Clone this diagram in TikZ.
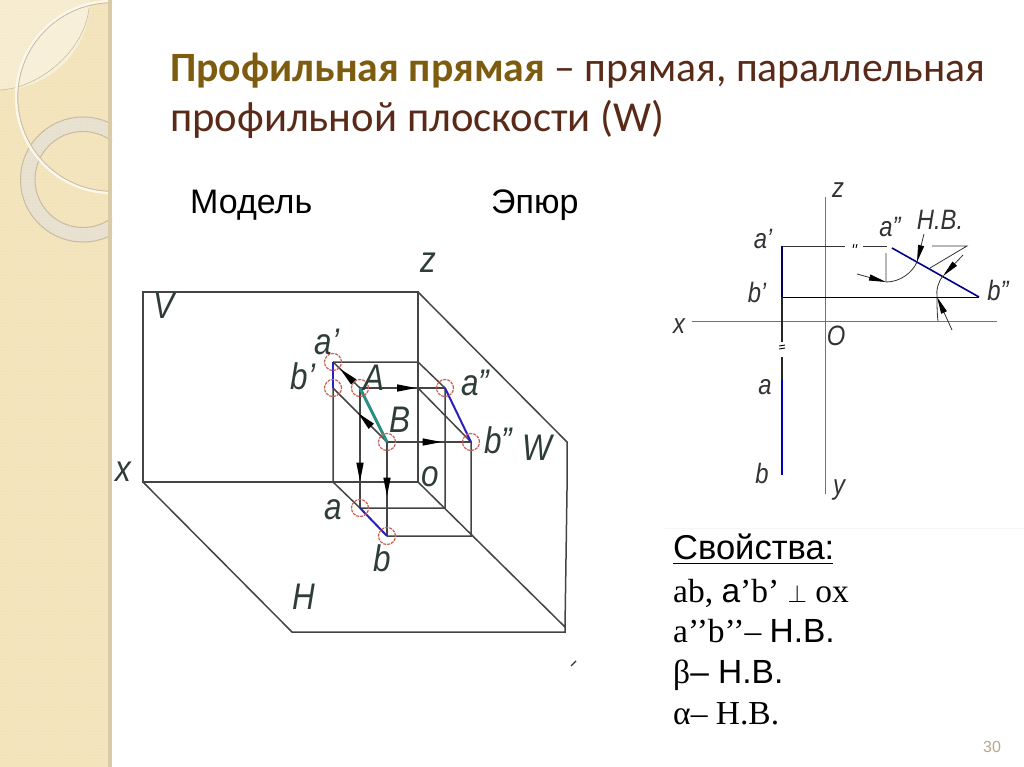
\documentclass[tikz,border=0pt]{standalone}
\usepackage{amsmath}
\usepackage{fontspec}
\setmainfont{Liberation Serif}
\setsansfont{Liberation Sans}
\newfontfamily\titlefont{Carlito}
\usetikzlibrary{arrows.meta,decorations.markings,patterns}
\definecolor{panel}{HTML}{F3E3BA}
\definecolor{paneledge}{HTML}{D8CBA6}
\definecolor{ringfill}{HTML}{E7E0CE}
\definecolor{ringedge}{HTML}{C5B99E}
\definecolor{titlegold}{HTML}{7D5C10}
\definecolor{titlebrown}{HTML}{5A2A18}
\definecolor{planeline}{HTML}{444444}
\definecolor{lblcolor}{HTML}{2E3D38}
\definecolor{projblue}{HTML}{2A1FC0}
\definecolor{truelen}{HTML}{2B8F84}
\definecolor{pagenum}{HTML}{B5A88F}
\definecolor{spotred}{HTML}{CC5F55}
\tikzset{
  txt/.style={anchor=base west,inner sep=0pt,text=black},
  lbl/.style={font=\fontsize{37}{37}\selectfont\sffamily\itshape,text=lblcolor,inner sep=0pt,transform shape,xscale=.85},
  eplbl/.style={font=\fontsize{28}{28}\selectfont\sffamily\itshape,text=black!80,inner sep=0pt,transform shape,xscale=.85},
  plane/.style={draw=planeline,line width=1.5pt},
  proj/.style={draw=projblue,line width=2pt},
  spot/.style={draw=spotred,dash pattern=on 3pt off 1pt,line width=1.2pt},
  axis/.style={draw=black!55,line width=1pt},
  thinl/.style={draw=black!80,line width=.8pt},
  midarr/.style={postaction={decorate},decoration={markings,mark=at position #1 with {\arrow{Triangle[length=19pt,width=7pt,black]}}}},
  dimarr/.style={-{Triangle[length=17pt,width=6pt,black]},draw=black!80,line width=.8pt}
}
\begin{document}
\begin{tikzpicture}[x=1pt,y=-1pt]
  \useasboundingbox (0,0) rectangle (1024,767);
  \fill[white] (0,0) rectangle (1024,767);
  % left band
  \begin{scope}
    \clip (0,0) rectangle (112,767);
    \fill[panel] (0,0) rectangle (112,767);
    \fill[white,opacity=.3] (0,0) circle (90);
    \begin{scope}
      \clip (112,97) circle (96);
      \fill[white,opacity=.2] (0,0) circle (90);
    \end{scope}
    \draw[ringedge,line width=.6pt] (0,90) .. controls (40,88) and (85,50) .. (89,8);
    \fill[ringfill,even odd rule] (83,179.5) circle (62.5) (83,179.5) circle (48);
    \draw[ringedge,line width=1pt] (83,179.5) circle (62.5);
    \draw[ringedge,line width=1pt] (83,179.5) circle (48);
    \draw[ringedge,line width=1.2pt] (112,97) circle (94.4);
    \draw[white!70!panel,line width=2.4pt] (112,97) circle (96);
    \fill[pattern=crosshatch dots,pattern color=white,opacity=.25] (0,0) rectangle (108,767);
    \fill[paneledge] (108,0) rectangle (112,767);
  \end{scope}
  % title
  \node[txt,text=titlebrown,font=\fontsize{41.7}{41.7}\selectfont\titlefont] (title1) at (170,82)
    {\textcolor{titlegold}{\bfseries Профильная прямая} – прямая, параллельная};
  \node[txt,text=titlebrown,font=\fontsize{42.7}{42.7}\selectfont\titlefont] (title2) at (170,132)
    {профильной плоскости (W)};
  \node[txt,font=\fontsize{34}{34}\selectfont\sffamily] (model) at (190,214) {Модель};
  \node[txt,font=\fontsize{34}{34}\selectfont\sffamily] (epure) at (491,214) {Эпюр};
  % model
  \coordinate (vtl) at (143,292);
  \coordinate (vtr) at (418,292);
  \coordinate (x0) at (143,482);
  \coordinate (o0) at (418,482);
  \coordinate (wtr) at (567,442);
  \coordinate (wmid) at (567,490);
  \coordinate (wbr) at (565,627);
  \coordinate (hbl) at (292,632);
  \coordinate (hbr) at (565,632);
  \coordinate (a1) at (333,362);
  \coordinate (b1) at (333,388);
  \coordinate (A) at (360,388);
  \coordinate (B) at (387,442);
  \coordinate (a2) at (445,388);
  \coordinate (b2) at (471,442);
  \coordinate (a0) at (360,508);
  \coordinate (b0) at (387,536);
  \coordinate (bx) at (333,482);
  \coordinate (az) at (418,362);
  \coordinate (bz) at (418,388);
  \coordinate (ay) at (445,508);
  \coordinate (by) at (471,536);
  \draw[plane] (vtl) -- (vtr) -- (o0) -- (x0) -- cycle;
  \draw[plane] (vtr) -- (wtr) -- (wmid) -- (wbr) -- (o0);
  \draw[plane] (x0) -- (hbl) -- (hbr) -- (wbr);
  \draw[plane] (a1) -- (az) -- (a2) -- (ay) -- (a0) -- (bx) -- (b1);
  \draw[plane] (bz) -- (b2) -- (by) -- (b0);
  \draw[plane,midarr=.78] (A) -- (a0);
  \draw[plane,midarr=.58] (B) -- (b0);
  \draw[plane,midarr=.66] (A) -- (a2);
  \draw[plane,midarr=.65] (B) -- (b2);
  \draw[plane,midarr=.74] (A) -- (a1);
  \draw[plane,midarr=.54] (B) -- (b1);
  \draw[proj] (a1) -- (b1);
  \draw[proj] (a2) -- (b2);
  \draw[proj] (a0) -- (b0);
  \draw[truelen,line width=3pt] (A) -- (B);
  \foreach \p in {a1,b1,A,B,a2,b2,a0,b0}
    \draw[spot] (\p) circle [radius=8.5pt];
  \node[lbl] (lz) at (428,263) {z};
  \node[lbl] (lV) at (164,306) {V};
  \node[lbl] (la1) at (327,342) {a’};
  \node[lbl] (lb1) at (303,376) {b’};
  \node[lbl] (lA) at (374,378) {A};
  \node[lbl] (la2) at (475,383) {a”};
  \node[lbl] (lB) at (400,420) {B};
  \node[lbl] (lb2) at (498,440) {b”};
  \node[lbl] (lW) at (537,448) {W};
  \node[lbl] (lx) at (123,472) {x};
  \node[lbl] (lo) at (430,477) {o};
  \node[lbl] (la0) at (333,510) {a};
  \node[lbl] (lb0) at (382,558) {b};
  \node[lbl] (lH) at (304,597) {H};
  \coordinate (sp1) at (571,666);
  \coordinate (sp2) at (576,661);
  \draw[black!80,line width=1.2pt] (sp1) -- (sp2);
  % epure
  \coordinate (zt) at (825,197);
  \coordinate (yb) at (825,494);
  \coordinate (xl) at (692,321);
  \coordinate (xr) at (997,321);
  \coordinate (ea1) at (782,246);
  \coordinate (eb1) at (782,297);
  \coordinate (ea2) at (892,248);
  \coordinate (eb2) at (979,297);
  \coordinate (ea0) at (782,380);
  \coordinate (eb0) at (782,475);
  \coordinate (gap1) at (845,246);
  \coordinate (gap2) at (863,246);
  \coordinate (gap3) at (887,246);
  \coordinate (gap4) at (932,246);
  \coordinate (cnr) at (967,246);
  \coordinate (cnr2) at (930,268);
  \coordinate (cut1) at (782,342);
  \coordinate (cut2) at (782,357);
  \coordinate (v1) at (886,253);
  \coordinate (v2) at (886,282);
  \coordinate (arcb) at (917,262);
  \coordinate (arct) at (943,276);
  \coordinate (arcm) at (937,297);
  \coordinate (arce) at (938,321);
  \coordinate (ar1) at (857,274);
  \coordinate (ar2) at (924,234);
  \coordinate (ar3) at (963,255);
  \coordinate (ar4) at (952,330);
  \draw[axis] (zt) -- (yb);
  \draw[axis] (xl) -- (xr);
  \draw[thinl] (ea1) -- (gap1);
  \draw[thinl] (gap2) -- (gap3);
  \draw[thinl] (gap4) -- (cnr) -- (cnr2);
  \draw[black,line width=1pt] (eb1) -- (eb2);
  \draw[black!85,line width=1.2pt] (eb1) -- (cut1);
  \draw[black!85,line width=1.2pt] (cut2) -- (ea0);
  \draw[black!40!blue!60!black,line width=1.4pt] (ea1) -- (eb1);
  \draw[blue!75!black,line width=1.4pt] (ea0) -- (eb0);
  \draw[blue!55!black,line width=1.6pt] (ea2) -- (eb2);
  \draw[thinl] (v1) -- (v2) .. controls (900,282) and (912,273) .. (arcb);
  \draw[thinl] (arct) .. controls (938,282) and (936,290) .. (arcm) .. controls (937,305) and (937,313) .. (arce);
  \draw[dimarr] (ar1) -- (v2);
  \draw[dimarr] (ar2) -- (arcb);
  \draw[dimarr] (ar3) -- (arct);
  \draw[dimarr] (ar4) -- (arcm);
  \draw[black,line width=.9pt] (854,244) -- (853,248) (857,244) -- (856,248);
  \draw[black,line width=.9pt] (779,346) -- (785,345) (779,349) -- (785,348);
  \node[eplbl] (ez) at (838,190) {z};
  \node[eplbl] (ela1) at (763,239) {a’};
  \node[eplbl] (elb1) at (757,292) {b’};
  \node[eplbl] (ex) at (679,326) {x};
  \node[eplbl] (eO) at (836,336) {O};
  \node[eplbl] (ela0) at (765,387) {a};
  \node[eplbl] (elb0) at (762,473) {b};
  \node[eplbl] (ey) at (839,490) {y};
  \node[eplbl] (ela2) at (890,227) {a”};
  \node[eplbl] (enb) at (940,220) {Н.В.};
  \node[eplbl] (elb2) at (998,290) {b”};
  % properties
  \draw[black!4,line width=1pt] (665,528) -- (1024,528);
  \node[txt,font=\fontsize{34.5}{34.5}\selectfont\sffamily] (prop) at (673,559) {Свойства:};
  \draw[black,line width=1.4pt] (673,563.5) -- (833,563.5);
  \node[txt,font=\fontsize{33.5}{33.5}\selectfont] (p1) at (673,602) {ab, {\sffamily a}’b’ $\perp$ ox};
  \node[txt,font=\fontsize{33.5}{33.5}\selectfont] (p2) at (673,642) {a’’b’’– {\sffamily Н.В.}};
  \node[txt,font=\fontsize{33.5}{33.5}\selectfont] (p3) at (673,683) {β{\sffamily – Н.В.}};
  \node[txt,font=\fontsize{33.5}{33.5}\selectfont] (p4) at (673,724) {α– Н.В.};
  \node[txt,text=pagenum,font=\fontsize{16}{16}\selectfont\sffamily] (pg) at (983,752.5) {30};
\end{tikzpicture}
\end{document}
